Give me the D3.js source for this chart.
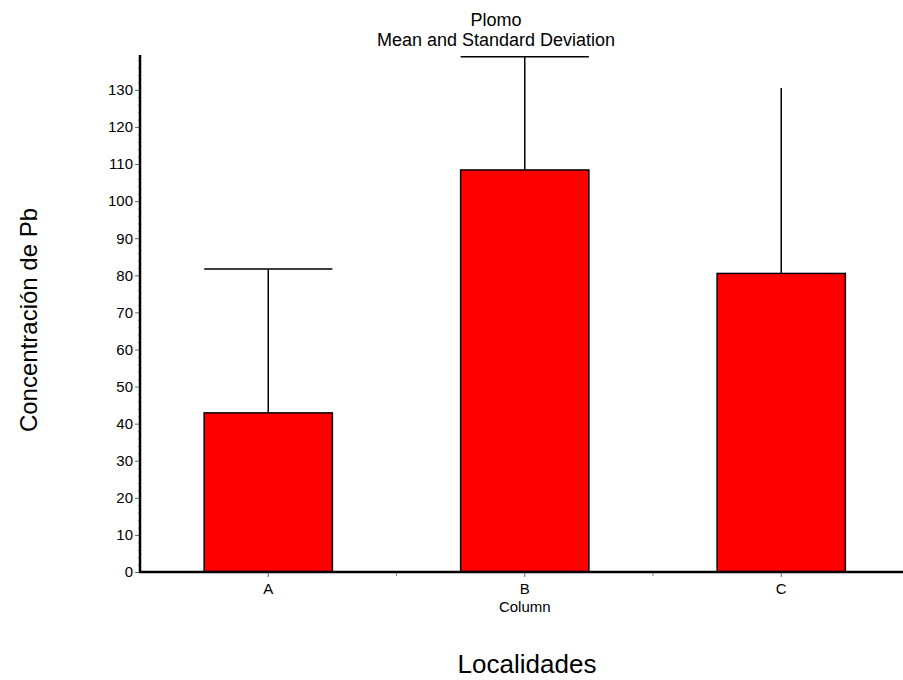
<!DOCTYPE html>
<html lang="en">
<head>
    <meta charset="UTF-8">
    <script src="https://d3js.org/d3.v7.min.js"></script>
    <style>
        body { margin: 0; background: #fff; }
        text { font-family: "Liberation Sans", Arial, sans-serif; fill: #000; }
        .bar { fill: #ff0000; stroke: #000; stroke-width: 1.5px; }
        .err { stroke: #000; stroke-width: 1.5px; fill: none; }
    </style>
</head>
<body>
<script>
    const categories = ['A', 'B', 'C'];
    const means = [42.9, 108.4, 80.5];
    const sds = [38.8, 30.5, 50.0];
    const caps = [true, true, false];
    const yTicks = d3.range(0, 131, 10);

    const width = 903;
    const height = 680;
    const x0 = 140, y0 = 572, yTop = 55;

    const svg = d3.select('body').append('svg')
        .attr('width', width)
        .attr('height', height);

    const x = d3.scaleBand()
        .domain(categories)
        .range([x0, x0 + 3 * 256.5])
        .paddingInner(0.5)
        .paddingOuter(0.25);

    const y = d3.scaleLinear()
        .domain([0, 139.4])
        .range([y0, yTop]);

    const data = categories.map((c, i) => ({ c, mean: means[i], sd: sds[i], cap: caps[i] }));

    // bars
    svg.selectAll('.bar')
        .data(data)
        .enter().append('rect')
        .attr('class', 'bar')
        .attr('x', d => x(d.c))
        .attr('y', d => y(d.mean))
        .attr('width', x.bandwidth())
        .attr('height', d => y(0) - y(d.mean));

    // error bars (upper only)
    svg.selectAll('.err-v')
        .data(data)
        .enter().append('line')
        .attr('class', 'err')
        .attr('x1', d => x(d.c) + x.bandwidth() / 2)
        .attr('x2', d => x(d.c) + x.bandwidth() / 2)
        .attr('y1', d => y(d.mean))
        .attr('y2', d => y(d.mean + d.sd));

    svg.selectAll('.err-cap')
        .data(data.filter(d => d.cap))
        .enter().append('line')
        .attr('class', 'err')
        .attr('x1', d => x(d.c))
        .attr('x2', d => x(d.c) + x.bandwidth())
        .attr('y1', d => y(d.mean + d.sd))
        .attr('y2', d => y(d.mean + d.sd));

    // y axis
    const yAxis = svg.append('g')
        .attr('transform', `translate(${x0},0)`)
        .call(d3.axisLeft(y).tickValues(yTicks).tickSize(5).tickPadding(2));
    yAxis.select('.domain').remove();
    yAxis.selectAll('.tick line').attr('stroke', '#666');
    yAxis.selectAll('.tick text').style('font-size', '15px');

    const yMinor = svg.append('g')
        .attr('transform', `translate(${x0},0)`)
        .call(d3.axisLeft(y).tickValues(d3.range(0, 139, 2).filter(v => v % 10 !== 0)).tickSize(2).tickFormat(''));
    yMinor.select('.domain').remove();
    yMinor.selectAll('.tick line').attr('stroke', '#888');

    svg.append('line')
        .attr('x1', x0).attr('x2', x0)
        .attr('y1', yTop).attr('y2', y0 + 1)
        .attr('stroke', '#000').attr('stroke-width', 2.5);

    // x axis
    const xAxis = svg.append('g')
        .attr('transform', `translate(0,${y0})`)
        .call(d3.axisBottom(x).tickSize(5).tickPadding(6));
    xAxis.select('.domain').remove();
    xAxis.selectAll('.tick line').attr('stroke', '#666');
    xAxis.selectAll('.tick text').style('font-size', '15px');

    const step = x.step();
    svg.append('g')
        .selectAll('line')
        .data(categories.slice(1))
        .enter().append('line')
        .attr('x1', d => x(d) - step / 4)
        .attr('x2', d => x(d) - step / 4)
        .attr('y1', y0).attr('y2', y0 + 4)
        .attr('stroke', '#888');

    svg.append('line')
        .attr('x1', x0 - 1).attr('x2', width)
        .attr('y1', y0).attr('y2', y0)
        .attr('stroke', '#000').attr('stroke-width', 2.5);

    // titles and labels
    svg.append('text').attr('x', 496).attr('y', 26).attr('text-anchor', 'middle')
        .style('font-size', '18px').text('Plomo');
    svg.append('text').attr('x', 496).attr('y', 46).attr('text-anchor', 'middle')
        .style('font-size', '18px').text('Mean and Standard Deviation');
    svg.append('text').attr('x', x('B') + x.bandwidth() / 2).attr('y', 612).attr('text-anchor', 'middle')
        .style('font-size', '15px').text('Column');
    svg.append('text').attr('x', 527).attr('y', 673).attr('text-anchor', 'middle')
        .style('font-size', '26px').text('Localidades');
    svg.append('text')
        .attr('transform', 'translate(37,320) rotate(-90)')
        .attr('text-anchor', 'middle')
        .style('font-size', '24px').text('Concentración de Pb');
</script>
</body>
</html>
